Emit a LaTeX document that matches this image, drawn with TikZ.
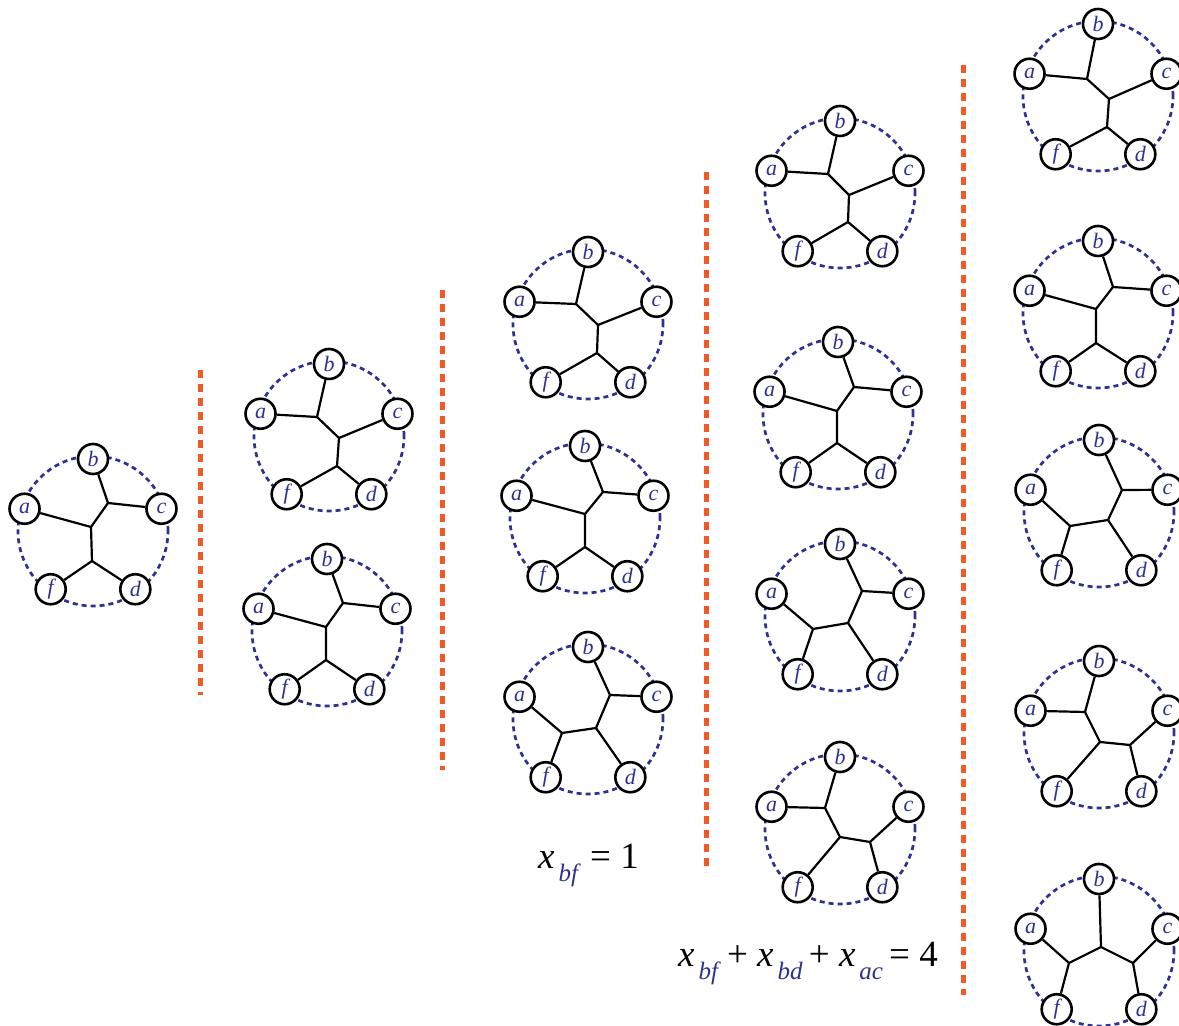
\documentclass[tikz,border=0pt]{standalone}
\usepackage{fontspec}
\setmainfont{Liberation Serif}
\usetikzlibrary{calc}

\definecolor{navy}{RGB}{46,49,146}
\definecolor{sepred}{RGB}{241,90,36}

% ring of five leaves round a centre
\newcommand{\pent}[2]{%
  \coordinate (#1) at #2;
  \draw[ring] (#1) circle (75pt);
  \foreach \lf/\ang in {b/90,a/162,c/18,f/234,d/306}
    \node[leaf] (#1\lf) at ($(#1)+(\ang:72pt)$) {\lf};
}
% inner tree: three inner points, cherry #5#6, middle leaf #7, cherry #8#9
\newcommand{\branch}[9]{%
  \coordinate (#1u1) at ($(#1)+#2$);
  \coordinate (#1u2) at ($(#1)+#3$);
  \coordinate (#1u3) at ($(#1)+#4$);
  \draw[edge] (#1#5) -- (#1u1) -- (#1#6);
  \draw[edge] (#1u1) -- (#1u2) -- (#1u3) -- (#1#9);
  \draw[edge] (#1#7) -- (#1u2);
  \draw[edge] (#1#8) -- (#1u3);
}
\newcommand{\xsub}[1]{\textit{x}\hspace{4pt}\raisebox{-13pt}{\fontsize{25}{25}\selectfont\color{navy}\textit{#1}}}

\begin{document}
\begin{tikzpicture}[x=1pt,y=1pt,
    ring/.style={navy,line width=2.7pt,dash pattern=on 5pt off 4pt},
    leaf/.style={circle,draw=black,fill=white,line width=2.6pt,minimum size=30pt,
      inner sep=0pt,text=navy,font=\fontsize{22}{22}\selectfont\itshape},
    edge/.style={line width=2.2pt,line join=round},
    sep/.style={sepred,line width=5pt,dash pattern=on 8pt off 6pt},
    eqn/.style={inner sep=0pt,font=\fontsize{37}{37}\selectfont}]
  \clip (0,0) rectangle (1179,1026);

  % column 1
  \pent{p1}{(93,495)}
  \branch{p1}{(15,28)}{(-2,4)}{(-1,-30)}{b}{c}{a}{f}{d}

  % column 2
  \pent{p2}{(329,590)}
  \branch{p2}{(-12,19)}{(10,-2)}{(8,-30)}{a}{b}{c}{f}{d}
  \pent{p3}{(327,395)}
  \branch{p3}{(16,28)}{(-1,4)}{(-1,-29)}{b}{c}{a}{f}{d}

  % column 3
  \pent{p4}{(588,702)}
  \branch{p4}{(-12,20)}{(10,-1)}{(9,-29)}{a}{b}{c}{f}{d}
  \pent{p5}{(585,508)}
  \branch{p5}{(18,26)}{(0,4)}{(0,-29)}{b}{c}{a}{f}{d}
  \pent{p6}{(588,307)}
  \branch{p6}{(22,24)}{(8,-9)}{(-26,-14)}{b}{c}{d}{a}{f}

  % column 4
  \pent{p7}{(840,833)}
  \branch{p7}{(-12,19)}{(9,-2)}{(8,-29)}{a}{b}{c}{f}{d}
  \pent{p8}{(838,612)}
  \branch{p8}{(16,27)}{(-1,3)}{(-1,-29)}{b}{c}{a}{f}{d}
  \pent{p9}{(840,410)}
  \branch{p9}{(22,25)}{(8,-7)}{(-27,-13)}{b}{c}{d}{a}{f}
  \pent{p10}{(840,197)}
  \branch{p10}{(-15,21)}{(0,-8)}{(30,-13)}{a}{b}{f}{c}{d}

  % column 5
  \pent{p11}{(1098,930)}
  \branch{p11}{(-11,17)}{(11,-3)}{(9,-31)}{a}{b}{c}{f}{d}
  \pent{p12}{(1098,713)}
  \branch{p12}{(15,26)}{(-2,4)}{(-2,-30)}{b}{c}{a}{f}{d}
  \pent{p13}{(1099,514)}
  \branch{p13}{(23,22)}{(9,-8)}{(-29,-14)}{b}{c}{d}{a}{f}
  \pent{p14}{(1099,293)}
  \branch{p14}{(-14,21)}{(1,-9)}{(31,-12)}{a}{b}{f}{c}{d}
  \pent{p15}{(1099,75)}
  \branch{p15}{(-30,-12)}{(2,4)}{(34,-12)}{a}{f}{b}{c}{d}

  % separators
  \coordinate (s1t) at (200,656); \coordinate (s1b) at (200,331);
  \coordinate (s2t) at (442,736); \coordinate (s2b) at (442,256);
  \coordinate (s3t) at (706,854); \coordinate (s3b) at (706,154);
  \coordinate (s4t) at (963,961); \coordinate (s4b) at (963,31);
  \draw[sep] (s1t) -- (s1b);
  \draw[sep] (s2t) -- (s2b);
  \draw[sep] (s3t) -- (s3b);
  \draw[sep] (s4t) -- (s4b);

  % constraints
  \node[eqn,anchor=base west] (lab1) at (538,157) {\xsub{bf}\ = 1};
  \node[eqn,anchor=base west] (lab2) at (678,59)
    {\xsub{bf}\,+\ \xsub{bd}\,+\ \xsub{ac}\,=\ 4};
\end{tikzpicture}
\end{document}
